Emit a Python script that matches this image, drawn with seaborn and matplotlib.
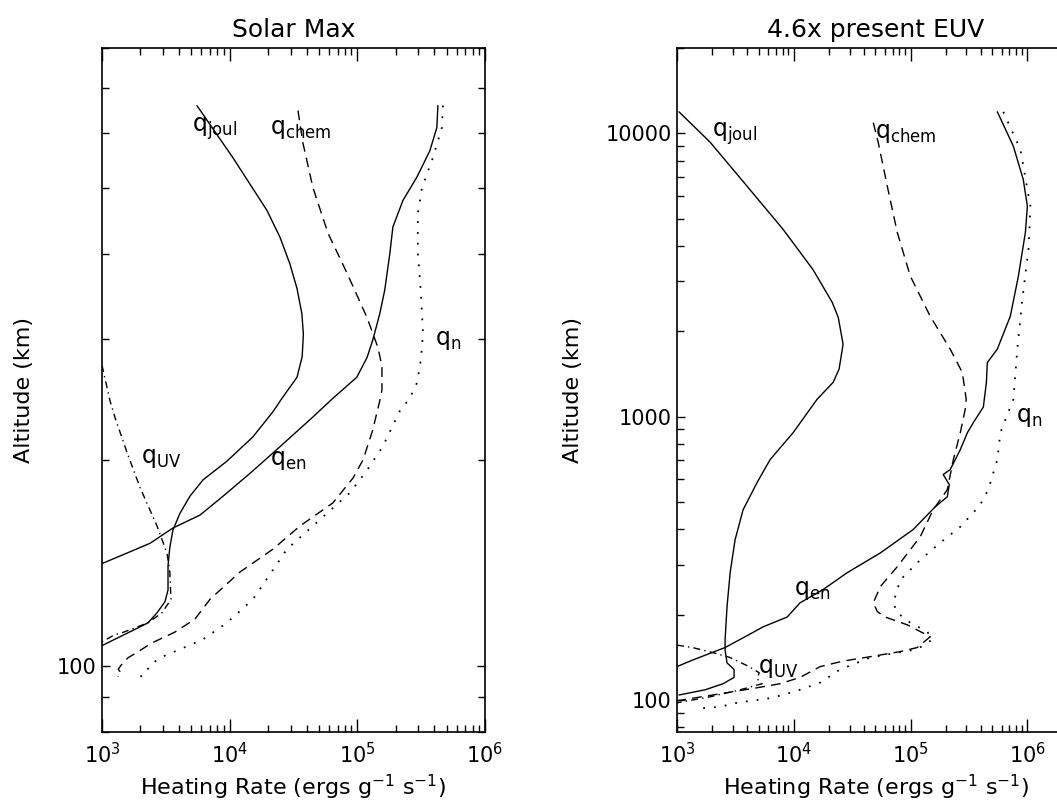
import matplotlib
matplotlib.use('Agg')
import matplotlib.pyplot as plt
import matplotlib.ticker as mticker
import pandas as pd
import seaborn as sns

# ---------------- Solar Max (left panel) ----------------
smax_joul_q = [5.54e3, 1.06e4, 1.96e4, 2.48e4, 2.96e4, 3.37e4, 3.68e4, 3.78e4, 3.70e4, 3.37e4, 2.57e4, 2.18e4,
               1.52e4, 9.5e3, 6.2e3, 4.89e3, 4.08e3, 3.6e3, 3.4e3, 3.29e3, 3.29e3, 3.11e3, 2.70e3, 2.29e3,
               1.81e3, 1.0e3]
smax_joul_z = [659, 553, 463, 423, 387, 356, 327, 305, 283, 264, 246, 235,
               216, 199, 187, 177, 167, 158, 149, 140, 129, 124, 119.5, 115.5,
               113, 107]

smax_en_q = [4.28e5, 4.2e5, 3.7e5, 2.93e5, 2.28e5, 1.90e5, 1.80e5, 1.64e5, 1.50e5, 1.32e5, 1.19e5, 9.9e4,
             6.44e4, 4.49e4, 2.34e4, 1.44e4, 8.9e3, 5.85e3, 3.6e3, 2.38e3, 1.0e3]
smax_en_z = [659, 612, 566, 518, 479, 438, 401, 354, 327, 299, 282, 264,
             246, 231, 207, 191, 177, 166, 159, 151, 141]

smax_chem_q = [3.43e4, 3.75e4, 4.49e4, 5.89e4, 8.3e4, 1.19e5, 1.45e5, 1.56e5, 1.56e5, 1.50e5, 1.32e5, 1.11e5,
               9.24e4, 6.44e4, 3.55e4, 2.18e4, 1.20e4, 7.0e3, 5.35e3, 3.73e3, 2.47e3, 1.91e3, 1.60e3,
               1.40e3, 1.34e3, 1.42e3, 1.33e3]
smax_chem_z = [648, 581, 500, 429, 375, 323, 292, 274, 253, 244, 221, 200,
               188, 173, 160, 148, 137, 125, 117, 112, 108, 104.8, 102.7,
               100, 98.8, 97.5, 96.4]

smax_n_q = [4.68e5, 4.6e5, 3.91e5, 3.21e5, 2.98e5, 2.98e5, 3.15e5, 3.27e5, 3.15e5, 2.93e5, 2.58e5, 2.16e5,
            1.58e5, 1.19e5, 8.75e4, 5.38e4, 2.81e4, 1.96e4, 1.52e4, 9.5e3, 6.07e3, 4.23e3, 2.95e3,
            2.38e3, 2.17e3, 1.88e3, 1.75e3]
smax_n_z = [659, 612, 553, 500, 458, 401, 351, 306, 280, 259, 246, 236,
            209, 193, 179, 165, 148, 134, 125, 115.5, 109, 106, 103,
            100.3, 97, 96, 96]

smax_uv_q = [1.0e3, 1.155e3, 1.26e3, 1.57e3, 1.99e3, 2.70e3, 3.23e3, 3.4e3, 3.47e3, 2.95e3, 2.29e3,
             1.43e3, 1.26e3, 1.0e3]
smax_uv_z = [275, 244, 231, 205, 182, 160, 146, 137, 125, 119.5, 115.5, 111.7, 111, 108.4]

# ---------------- 4.6x present EUV (right panel) ----------------
euv_joul_q = [1.04e3, 1.92e3, 3.98e3, 8.09e3, 1.46e4, 2.13e4, 2.40e4, 2.64e4, 2.44e4, 2.17e4, 1.58e4, 9.86e3,
              6.27e3, 4.85e3, 3.68e3, 3.14e3, 2.85e3, 2.68e3, 2.58e3, 2.58e3, 2.68e3, 3.08e3, 3.08e3,
              2.48e3, 1.74e3, 1.04e3]
euv_joul_z = [1.19e4, 9.3e3, 6.50e3, 4.58e3, 3.30e3, 2.53e3, 2.24e3, 1.80e3, 1.47e3, 1.32e3, 1.15e3, 877,
              705, 585, 469, 367, 281, 213, 163, 150, 135, 128, 120,
              114, 108.5, 104]

euv_en_q = [5.52e5, 7.57e5, 9.2e5, 9.98e5, 9.6e5, 8.36e5, 7.13e5, 5.52e5, 4.53e5, 4.45e5, 4.19e5, 3.44e5,
            3.06e5, 2.66e5, 2.18e5, 1.90e5, 2.14e5, 2.06e5, 1.63e5, 1.05e5, 5.50e4, 2.86e4, 1.78e4,
            1.13e4, 8.77e3, 5.46e3, 3.83e3, 2.58e3, 1.35e3, 1.0e3]
euv_en_z = [1.19e4, 9.0e3, 6.87e3, 5.52e3, 4.47e3, 3.13e3, 2.26e3, 1.73e3, 1.55e3, 1.32e3, 1.08e3, 952,
            877, 764, 650, 624, 575, 521, 481, 399, 330, 281, 245,
            220, 196, 181, 167, 153, 138, 131]

euv_chem_q = [4.79e4, 5.27e4, 6.31e4, 7.68e4, 9.93e4, 1.47e5, 2.18e5, 2.77e5, 2.99e5, 2.93e5, 2.66e5, 2.32e5,
              2.06e5, 1.56e5, 1.21e5, 7.68e4, 5.50e4, 4.79e4, 5.18e4, 6.05e4, 9.35e4, 1.47e5, 1.14e5,
              8.15e4, 4.51e4, 2.64e4, 1.68e4, 1.13e4, 7.64e3, 4.66e3, 2.33e3, 1.0e3]
euv_chem_z = [1.09e4, 9.3e3, 6.50e3, 4.47e3, 3.13e3, 2.26e3, 1.73e3, 1.43e3, 1.15e3, 1.06e3, 877, 705,
              552, 469, 377, 295, 251, 220, 205, 196, 184, 167, 153,
              148, 142, 137, 131, 120, 114, 110, 105, 99.2]

euv_n_q = [6.21e5, 8.69e5, 1.06e6, 1.02e6, 9.03e5, 8.19e5, 7.57e5, 7.13e5, 5.86e5, 5.52e5, 4.62e5, 3.9e5,
           2.66e5, 1.80e5, 1.21e5, 8.15e4, 7.10e4, 7.68e4, 9.93e4, 1.39e5, 1.53e5, 1.14e5, 4.51e4,
           2.49e4, 1.68e4, 1.13e4, 6.52e3, 3.27e3, 2.33e3, 1.48e3]
euv_n_z = [1.19e4, 8.77e3, 5.52e3, 3.89e3, 2.59e3, 1.73e3, 1.15e3, 1.08e3, 877, 705, 552, 485,
           408, 359, 312, 265, 220, 203, 187, 174, 163, 151, 141,
           128, 115, 108.5, 101.6, 97.6, 94.5, 93]

euv_uv_q = [1.0e3, 1.35e3, 2.0e3, 2.85e3, 4.14e3, 5.05e3, 4.85e3, 5.35e3, 3.47e3, 1.92e3, 1.0e3]
euv_uv_z = [156, 153, 147, 141, 131, 124.6, 118.6, 114, 108.5, 102.5, 97.6]

SOLID = '-'
DASHED = (0, (7, 4.5))
DOTTED = (0, (1, 5))
DASHDOT = (0, (5, 3, 1, 3))

sns.set_style('ticks')
plt.rcParams['font.family'] = ['DejaVu Sans']
plt.rcParams['mathtext.fontset'] = 'dejavusans'
for key in ['text.color', 'axes.labelcolor', 'xtick.color', 'ytick.color', 'axes.edgecolor']:
    plt.rcParams[key] = 'black'


def draw_curve(ax, q, z, ls):
    df = pd.DataFrame({'q': q, 'z': z})
    lw = 1.3 if ls == DOTTED else 1.0
    sns.lineplot(data=df, x='q', y='z', sort=False, estimator=None, color='black',
                 linewidth=lw, linestyle=ls, ax=ax)


def style_axes(ax, ylim, title):
    ax.set_xscale('log')
    ax.set_yscale('log')
    ax.set_ylim(*ylim)
    ax.set_title(title, fontsize=18, pad=8)
    ax.set_xlabel(r'Heating Rate (ergs g$^{-1}$ s$^{-1}$)', fontsize=16, labelpad=4)
    ax.set_ylabel('Altitude (km)', fontsize=16, labelpad=16)
    ax.xaxis.set_major_locator(mticker.LogLocator(base=10, numticks=10))
    ax.xaxis.set_minor_locator(mticker.LogLocator(base=10, subs=range(2, 10), numticks=20))
    ax.xaxis.set_minor_formatter(mticker.NullFormatter())
    ax.yaxis.set_major_locator(mticker.LogLocator(base=10, numticks=10))
    ax.yaxis.set_minor_locator(mticker.LogLocator(base=10, subs=range(2, 10), numticks=20))
    ax.yaxis.set_major_formatter(mticker.FuncFormatter(lambda v, p: f'{v:.0f}'))
    ax.yaxis.set_minor_formatter(mticker.NullFormatter())
    ax.tick_params(which='both', direction='in', top=True, right=True, width=1.0,
                   labelsize=15, color='black', labelcolor='black')
    ax.tick_params(axis='x', which='major', length=9.5, pad=7)
    ax.tick_params(axis='x', which='minor', length=5)
    ax.tick_params(axis='y', which='major', length=6, pad=4)
    ax.tick_params(axis='y', which='minor', length=5)
    for sp in ax.spines.values():
        sp.set_linewidth(1.2)
        sp.set_color('black')
        sp.set_visible(True)


fig = plt.figure(figsize=(10.57, 8.02), dpi=100)
ax1 = fig.add_axes([0.0965, 0.0873, 0.3623, 0.8529])
ax2 = fig.add_axes([0.6405, 0.0873, 0.3765, 0.8529])

draw_curve(ax1, smax_joul_q, smax_joul_z, SOLID)
draw_curve(ax1, smax_en_q, smax_en_z, SOLID)
draw_curve(ax1, smax_chem_q, smax_chem_z, DASHED)
draw_curve(ax1, smax_n_q, smax_n_z, DOTTED)
draw_curve(ax1, smax_uv_q, smax_uv_z, DASHDOT)
style_axes(ax1, (80, 800), 'Solar Max')
ax1.set_xlim(1e3, 1e6)

draw_curve(ax2, euv_joul_q, euv_joul_z, SOLID)
draw_curve(ax2, euv_en_q, euv_en_z, SOLID)
draw_curve(ax2, euv_chem_q, euv_chem_z, DASHED)
draw_curve(ax2, euv_n_q, euv_n_z, DOTTED)
draw_curve(ax2, euv_uv_q, euv_uv_z, DASHDOT)
style_axes(ax2, (77, 20000), '4.6x present EUV')
ax2.set_xlim(1e3, 2.55e6)

lab = dict(fontsize=17, ha='left', va='center', color='black')
ax1.text(5.07e3, 610, r'$\mathrm{q}_\mathrm{joul}$', **lab)
ax1.text(2.07e4, 610, r'$\mathrm{q}_\mathrm{chem}$', **lab)
ax1.text(4.05e5, 299, r'$\mathrm{q}_\mathrm{n}$', **lab)
ax1.text(2.02e3, 201, r'$\mathrm{q}_\mathrm{UV}$', **lab)
ax1.text(2.07e4, 200, r'$\mathrm{q}_\mathrm{en}$', **lab)

ax2.text(2.0e3, 1.0e4, r'$\mathrm{q}_\mathrm{joul}$', **lab)
ax2.text(5.0e4, 1.0e4, r'$\mathrm{q}_\mathrm{chem}$', **lab)
ax2.text(7.9e5, 1000, r'$\mathrm{q}_\mathrm{n}$', **lab)
ax2.text(1.0e4, 245, r'$\mathrm{q}_\mathrm{en}$', **lab)
ax2.text(4.9e3, 130, r'$\mathrm{q}_\mathrm{UV}$', **lab)

fig.savefig('out.png', dpi=100)
